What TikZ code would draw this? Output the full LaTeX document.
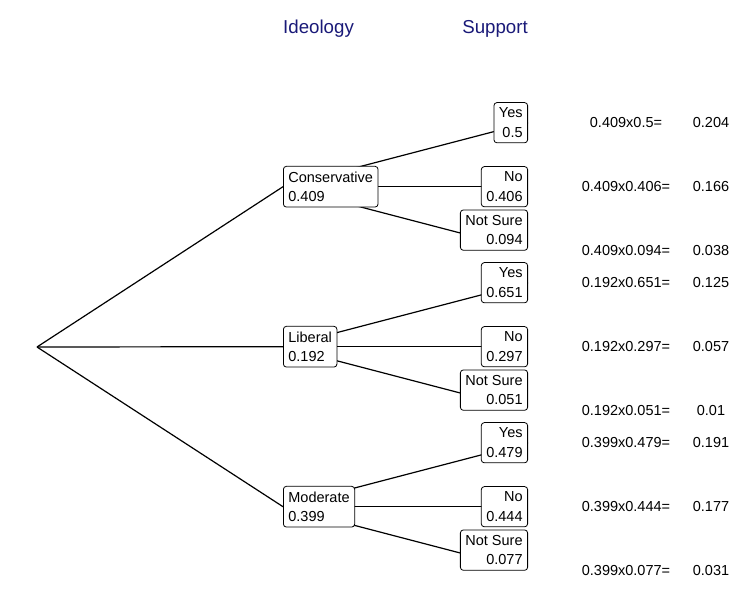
\documentclass[tikz,border=0pt]{standalone}
\usepackage{fontspec}
\setmainfont{Liberation Sans}
\usetikzlibrary{positioning,backgrounds}
\definecolor{titleblue}{RGB}{25,25,120}

\begin{document}
\begin{tikzpicture}[x=1pt,y=1pt]
    \tikzstyle{root node}=[inner sep=0,minimum size=0]
    \tikzstyle{ideology node}=[draw,line width=0.8pt,rounded corners=3pt,fill=white,align=left,anchor=west,inner xsep=5pt,inner ysep=5.3pt,font=\fontsize{14.5}{19.5}\selectfont]
    \tikzstyle{support node}=[ideology node,align=right,anchor=east]
    \tikzstyle{product node}=[inner sep=0,font=\fontsize{14.5}{17}\selectfont]
    \tikzstyle{title node}=[inner sep=0,text=titleblue,font=\fontsize{18.7}{22}\selectfont]
    \tikzstyle{branch}=[draw,line width=1.2pt]
    \tikzstyle{low branch}=[branch,shorten >=5pt]

    \useasboundingbox (0,0) rectangle (746,-601);

    \node(ideology)[title node,anchor=base west] at (283,-34) {Ideology};
    \node(support)[title node,anchor=base east] at (528,-34) {Support};

    \node(root)[root node] at (37,-347) {};

    % Conservative
    \node(cons)[ideology node] at (283,-186.7) {Conservative\\0.409};
    \node(cons-yes)[support node] at (528,-122.7) {Yes\\0.5};
    \node(cons-no)[support node] at (528,-186.7) {No\\0.406};
    \node(cons-ns)[support node,anchor=south east] at (528,-250.7) {Not Sure\\0.094};
    \node(cons-yes-p)[product node] at (626,-122.7) {0.409x0.5=};
    \node(cons-yes-r)[product node] at (711,-122.7) {0.204};
    \node(cons-no-p)[product node] at (626,-186.7) {0.409x0.406=};
    \node(cons-no-r)[product node] at (711,-186.7) {0.166};
    \node(cons-ns-p)[product node] at (626,-250.7) {0.409x0.094=};
    \node(cons-ns-r)[product node] at (711,-250.7) {0.038};

    % Liberal
    \node(lib)[ideology node] at (283,-346.7) {Liberal\\0.192};
    \node(lib-yes)[support node] at (528,-282.7) {Yes\\0.651};
    \node(lib-no)[support node] at (528,-346.7) {No\\0.297};
    \node(lib-ns)[support node,anchor=south east] at (528,-410.7) {Not Sure\\0.051};
    \node(lib-yes-p)[product node] at (626,-282.7) {0.192x0.651=};
    \node(lib-yes-r)[product node] at (711,-282.7) {0.125};
    \node(lib-no-p)[product node] at (626,-346.7) {0.192x0.297=};
    \node(lib-no-r)[product node] at (711,-346.7) {0.057};
    \node(lib-ns-p)[product node] at (626,-410.7) {0.192x0.051=};
    \node(lib-ns-r)[product node] at (711,-410.7) {0.01};

    % Moderate
    \node(mod)[ideology node] at (283,-506.7) {Moderate\\0.399};
    \node(mod-yes)[support node] at (528,-442.7) {Yes\\0.479};
    \node(mod-no)[support node] at (528,-506.7) {No\\0.444};
    \node(mod-ns)[support node,anchor=south east] at (528,-570.7) {Not Sure\\0.077};
    \node(mod-yes-p)[product node] at (626,-442.7) {0.399x0.479=};
    \node(mod-yes-r)[product node] at (711,-442.7) {0.191};
    \node(mod-no-p)[product node] at (626,-506.7) {0.399x0.444=};
    \node(mod-no-r)[product node] at (711,-506.7) {0.177};
    \node(mod-ns-p)[product node] at (626,-570.7) {0.399x0.077=};
    \node(mod-ns-r)[product node] at (711,-570.7) {0.031};

    \begin{scope}[on background layer]
        \draw[branch] (root.center) -- (cons.west);
        \draw[branch] (root.center) -- (lib.west);
        \draw[branch] (root.center) -- (mod.west);
        \draw[branch] (cons.west) -- (cons-yes.east);
        \draw[branch] (cons.west) -- (cons-no.east);
        \draw[low branch] (cons.west) -- (cons-ns.south east);
        \draw[branch] (lib.west) -- (lib-yes.east);
        \draw[branch] (lib.west) -- (lib-no.east);
        \draw[low branch] (lib.west) -- (lib-ns.south east);
        \draw[branch] (mod.west) -- (mod-yes.east);
        \draw[branch] (mod.west) -- (mod-no.east);
        \draw[low branch] (mod.west) -- (mod-ns.south east);
    \end{scope}
\end{tikzpicture}
\end{document}
